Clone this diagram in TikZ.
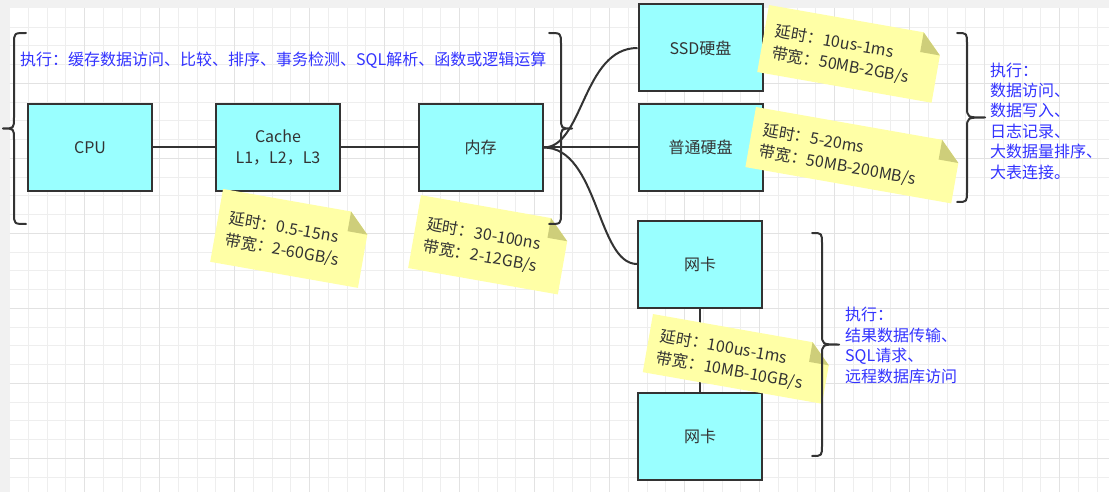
\documentclass[tikz,border=0pt]{standalone}
\usepackage{fontspec}
\setmainfont{Noto Sans CJK SC}
\usetikzlibrary{calc}
\definecolor{boxfill}{RGB}{153,255,255}
\definecolor{linec}{RGB}{51,51,51}
\definecolor{notefill}{RGB}{255,255,166}
\definecolor{notefold}{RGB}{206,206,122}
\definecolor{bluetext}{RGB}{51,51,255}
\definecolor{gridminor}{RGB}{238,238,238}
\definecolor{gridmajor}{RGB}{226,226,226}
\definecolor{outside}{RGB}{241,241,241}
\tikzset{
  hwbox/.style={draw=linec, line width=2pt, fill=boxfill, minimum width=124pt, minimum height=87pt, inner sep=0pt, text=linec, font=\fontsize{16}{21}\selectfont, align=center},
  wire/.style={draw=linec, line width=2pt},
  bracestyle/.style={draw=linec, line width=2pt, line cap=round, line join=round},
  notetext/.style={text=linec, font=\fontsize{16}{22}\selectfont, align=left, anchor=west, inner sep=0pt, transform shape},
  bluenote/.style={text=bluetext, font=\fontsize{16}{20.4}\selectfont, align=left, inner sep=0pt, anchor=west},
  gridthin/.style={draw=gridminor, line width=0.8pt},
  gridthick/.style={draw=gridmajor, line width=0.8pt}
}
\newcommand\drawcurly[6]{% hook x, line x, tip x, y top, y mid, y bottom
  \draw[bracestyle] (#1,#4) .. controls (#2,#4) .. (#2,{#4+11}) -- (#2,{#5-11})
    .. controls (#2,#5) .. (#3,#5) .. controls (#2,#5) .. (#2,{#5+11})
    -- (#2,{#6-11}) .. controls (#2,#6) .. (#1,#6);}
\newcommand\stickynote[6]{% name, cx, cy, W, H, text
  \begin{scope}[shift={(#2,#3)}, rotate=-10]
    \fill[notefill] ({-#4/2},{-#5/2}) -- ({#4/2-20},{-#5/2}) -- ({#4/2},{-#5/2+20}) -- ({#4/2},{#5/2}) -- ({-#4/2},{#5/2}) -- cycle;
    \fill[notefold] ({#4/2-20},{-#5/2}) -- ({#4/2-20},{-#5/2+20}) -- ({#4/2},{-#5/2+20}) -- cycle;
    \node[notetext] (#1) at ({-#4/2+11},2) {#6};
  \end{scope}}
\begin{document}
\begin{tikzpicture}[x=1pt, y=-1pt]
\useasboundingbox (0,0) rectangle (1109,492);
% canvas
\fill[outside] (0,0) rectangle (1109,492);
\fill[white] (9.5,8.3) rectangle (1109,492);
\foreach \i in {1,...,58} \draw[gridthin] ({9.5+18.75*\i},8.3) -- ({9.5+18.75*\i},492);
\foreach \j in {1,...,25} \draw[gridthin] (9.5,{8.3+18.75*\j}) -- (1109,{8.3+18.75*\j});
\foreach \i in {4,8,...,56} \draw[gridthick] ({9.5+18.75*\i},8.3) -- ({9.5+18.75*\i},492);
\foreach \j in {4,8,...,24} \draw[gridthick] (9.5,{8.3+18.75*\j}) -- (1109,{8.3+18.75*\j});

% boxes
\node[hwbox] (cpu) at (90,147.5) {CPU};
\node[hwbox] (cache) at (278,147.5) {Cache\\L1，L2，L3};
\node[hwbox] (mem) at (480.5,147.5) {内存};
\node[hwbox] (ssd) at (700.5,48) {SSD硬盘};
\node[hwbox] (hdd) at (700.5,147.5) {普通硬盘};
\node[hwbox] (nic1) at (700,264) {网卡};
\node[hwbox] (nic2) at (700,436) {网卡};

% connectors
\draw[wire] (cpu) -- (cache);
\draw[wire] (cache) -- (mem);
\draw[wire] (mem) -- (hdd);
\draw[wire] (nic1) -- (nic2);
\draw[wire] (mem.east) .. controls +(40,0) and +(-55,0) .. (ssd.west);
\draw[wire] (mem.east) .. controls +(55,0) and +(-40,0) .. (nic1.west);

% notes
\stickynote{n1}{290.5}{238.4}{150}{74}{延时：0.5-15ns\\带宽：2-60GB/s}
\stickynote{n2}{489.4}{244.8}{152}{74}{延时：30-100ns\\带宽：2-12GB/s}
\stickynote{n3}{850.3}{53.9}{177}{68}{延时：10us-1ms\\带宽：50MB-2GB/s}
\stickynote{n4}{853.6}{155.2}{209}{61}{延时：5-20ms\\带宽：50MB-200MB/s}
\stickynote{n5}{737.5}{358.9}{182}{59}{延时：100us-1ms\\带宽：10MB-10GB/s}

% braces
\drawcurly{26}{14}{3}{33}{128.5}{224}
\drawcurly{549}{561}{572}{33}{128.5}{224}
\drawcurly{957}{967}{985}{33}{117.5}{202}
\drawcurly{812}{822}{839}{233}{344.5}{456}

% blue texts
\node[bluenote] (t1) at (20,60) {执行：缓存数据访问、比较、排序、事务检测、SQL解析、函数或逻辑运算};
\node[bluenote] (t2) at (990,121) {执行：\\数据访问、\\数据写入、\\日志记录、\\大数据量排序、\\大表连接。};
\node[bluenote] (t3) at (845,345.5) {执行：\\结果数据传输、\\SQL请求、\\远程数据库访问};
\end{tikzpicture}
\end{document}
